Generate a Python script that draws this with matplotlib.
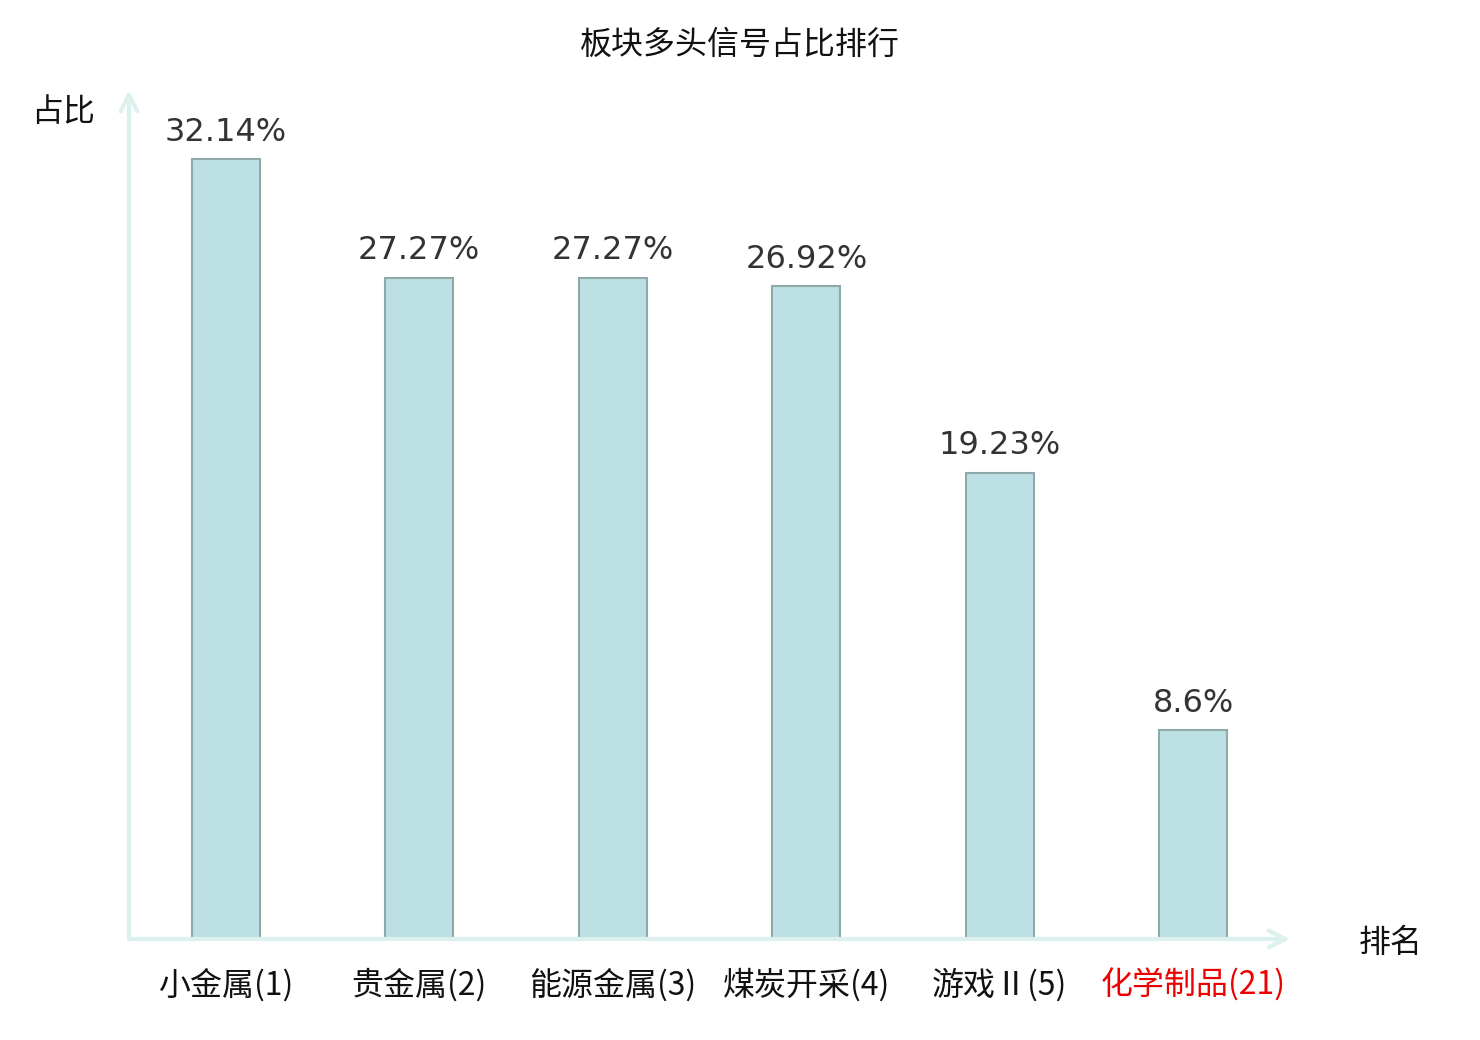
import matplotlib
matplotlib.use('Agg')
import matplotlib.pyplot as plt

plt.rcParams['font.family'] = ['Noto Sans CJK SC', 'DejaVu Sans']

# data
sectors = ['小金属', '贵金属', '能源金属', '煤炭开采', '游戏Ⅱ', '化学制品']
ranks = [1, 2, 3, 4, 5, 21]
ratios = [32.14, 27.27, 27.27, 26.92, 19.23, 8.6]
ratio_labels = ['32.14%', '27.27%', '27.27%', '26.92%', '19.23%', '8.6%']
highlight = '化学制品'

W, H = 1480, 1040
fig = plt.figure(figsize=(W / 100, H / 100), dpi=100)
ax = fig.add_axes([129 / W, 1 - 939 / H, (1290 - 129) / W, (939 - 90) / H])

xs = list(range(len(sectors)))
ax.bar(xs, ratios, width=0.35, color='#bce0e3', edgecolor='#8fa9aa', linewidth=1.5, zorder=3)

for x, v, lab in zip(xs, ratios, ratio_labels):
    ax.annotate(lab, (x, v), xytext=(0, 8), textcoords='offset points',
                ha='center', va='bottom', fontsize=23, color='#333333',
                family='DejaVu Sans')

ax.set_xlim(-0.5, 5.5)
ax.set_ylim(0, 35)
for s in ax.spines.values():
    s.set_visible(False)
ax.set_yticks([])
ax.set_xticks(xs)
ticklabels = ['%s(%d)' % (n, r) for n, r in zip(sectors, ranks)]
ax.set_xticklabels(ticklabels, fontsize=23)
ax.tick_params(axis='x', length=0, pad=21)
for t, n in zip(ax.get_xticklabels(), sectors):
    t.set_color('#ee0000' if n == highlight else '#111111')

# axis arrows
axis_col = '#dcf0ee'
ax.annotate('', xy=(1, 0), xytext=(0, 0), xycoords='axes fraction',
            arrowprops=dict(arrowstyle='->', color=axis_col, lw=3,
                            mutation_scale=30, shrinkA=0, shrinkB=0))
ax.annotate('', xy=(0, 1), xytext=(0, 0), xycoords='axes fraction',
            arrowprops=dict(arrowstyle='->', color=axis_col, lw=3,
                            mutation_scale=30, shrinkA=0, shrinkB=0))

fig.text(63 / W, 1 - 112 / H, '占比', ha='center', va='center', fontsize=23, color='#111111')
fig.text(1391 / W, 1 - 943 / H, '排名', ha='center', va='center', fontsize=23, color='#111111')
fig.text(740 / W, 1 - 45 / H, '板块多头信号占比排行', ha='center', va='center', fontsize=23, color='#111111')

fig.savefig('out.png', dpi=100, facecolor='white')
